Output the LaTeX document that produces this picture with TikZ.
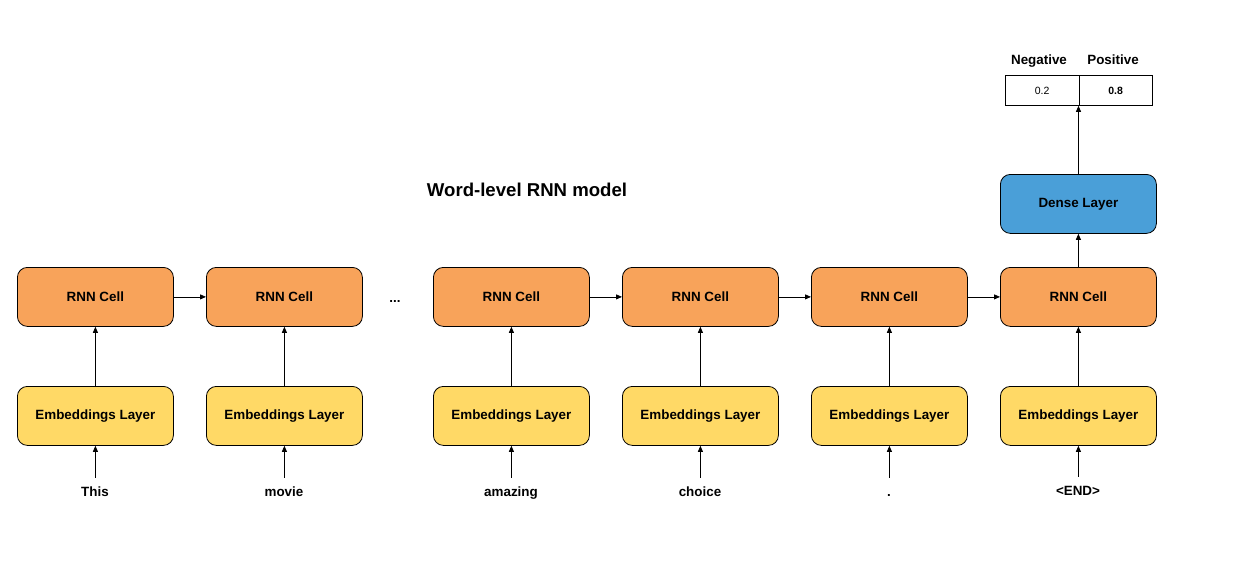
\documentclass[tikz,border=0pt]{standalone}
\usepackage{fontspec}
\setmainfont{Liberation Sans}
\usetikzlibrary{arrows.meta}
\definecolor{rnnorange}{HTML}{F8A35A}
\definecolor{embyellow}{HTML}{FFD966}
\definecolor{denseblue}{HTML}{4A9FD8}
\begin{document}
\begin{tikzpicture}[x=1pt,y=-1pt,
  box/.style={draw=black, line width=0.8pt, rounded corners=10pt, minimum width=156pt, minimum height=59pt, inner sep=0pt, font=\fontsize{13.4}{15}\selectfont\bfseries, anchor=north west},
  rnn/.style={box, fill=rnnorange},
  emb/.style={box, fill=embyellow},
  dense/.style={box, fill=denseblue},
  word/.style={font=\fontsize{13.4}{15}\selectfont\bfseries, inner sep=0pt, anchor=base, text height=10pt, text depth=3pt},
  cell/.style={draw=black, line width=0.8pt, minimum width=73.5pt, minimum height=30pt, inner sep=0pt, font=\fontsize{10.5}{12}\selectfont, anchor=north west},
  arr/.style={-{Triangle[length=6pt,width=5pt]}, line width=0.8pt}
]
\useasboundingbox (0,0) rectangle (1248,576);
\fill[white] (0,0) rectangle (1248,576);

% title
\node[font=\fontsize{18.6}{22}\selectfont\bfseries, anchor=base] (title) at (527,196) {Word-level RNN model};

% RNN cells
\node[rnn] (r1) at (17,267) {RNN Cell};
\node[rnn] (r2) at (206,267) {RNN Cell};
\node[rnn] (r3) at (433,267) {RNN Cell};
\node[rnn] (r4) at (622,267) {RNN Cell};
\node[rnn] (r5) at (811,267) {RNN Cell};
\node[rnn] (r6) at (1000,267) {RNN Cell};

% embeddings
\node[emb] (e1) at (17,386) {Embeddings Layer};
\node[emb] (e2) at (206,386) {Embeddings Layer};
\node[emb] (e3) at (433,386) {Embeddings Layer};
\node[emb] (e4) at (622,386) {Embeddings Layer};
\node[emb] (e5) at (811,386) {Embeddings Layer};
\node[emb] (e6) at (1000,386) {Embeddings Layer};

% dense
\node[dense] (d) at (1000,174) {Dense Layer};

% words
\node[word] (w1) at (95,496) {This};
\node[word] (w2) at (284,496) {movie};
\node[word] (w3) at (511,496) {amazing};
\node[word] (w4) at (700,496) {choice};
\node[word] (w5) at (889,496) {.};
\node[word] (w6) at (1078,495) {<END>};

\node[word] (dots) at (395,302) {...};

% output table
\node[cell] (neg) at (1005,75) {0.2};
\node[cell, font=\fontsize{10.5}{12}\selectfont\bfseries] (pos) at (1078.5,75) {0.8};
\node[word] (negl) at (1039,64) {Negative};
\node[word] (posl) at (1113,64) {Positive};

% arrows words -> embeddings
\foreach \i in {1,...,6} {
  \draw[arr] ([yshift=8pt]e\i.south |- w\i.north) -- (e\i.south);
}
% embeddings -> rnn
\foreach \i in {1,...,6} {
  \draw[arr] (e\i.north) -- (r\i.south);
}
% rnn -> rnn
\draw[arr] (r1.east) -- (r2.west);
\draw[arr] (r3.east) -- (r4.west);
\draw[arr] (r4.east) -- (r5.west);
\draw[arr] (r5.east) -- (r6.west);
% rnn -> dense -> table
\draw[arr] (r6.north) -- (d.south);
\draw[arr] (d.north) -- (pos.south west);
\end{tikzpicture}
\end{document}
